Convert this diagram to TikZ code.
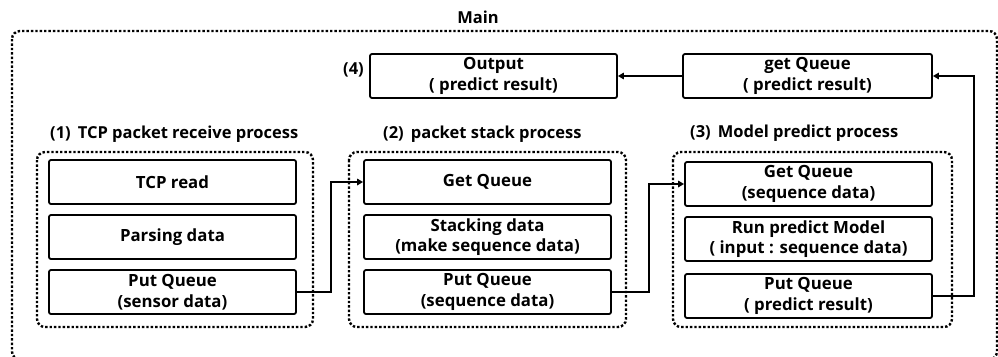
\documentclass[tikz,border=0pt]{standalone}
\usepackage{fontspec}
\setmainfont{Open Sans}
\usetikzlibrary{positioning}
\usetikzlibrary{arrows.meta}

\tikzset{
  procbox/.style={draw, line width=1.8pt, rounded corners=2pt, minimum width=247pt,
                  minimum height=44pt, align=center, inner sep=1pt,
                  font=\fontsize{16.8}{20.5}\selectfont\bfseries},
  groupbox/.style={line width=2.4pt, dotted, rounded corners=8pt},
  grouptitle/.style={anchor=west, inner sep=0pt, font=\fontsize{16.5}{19}\selectfont\bfseries},
  flow/.style={line width=2.2pt, -{Triangle[length=6pt,width=6.5pt]}}
}

\begin{document}
\begin{tikzpicture}[x=1pt, y=-1pt]
  \useasboundingbox (0,0) rectangle (998,356);
  \clip (0,0) rectangle (998,356);

 %main frame
  \draw[groupbox] (12,31) rectangle (997,359.5);
  \node[font=\fontsize{16.5}{19}\selectfont\bfseries] (main) at (478,17) {Main};

 %group 1
  \def\gx{172.5};
  \draw[groupbox] (37,152) rectangle (313,327);
  \node[grouptitle] (t1) at (50,134) {(1)\, TCP packet receive process};
  \foreach \y/\txt/\name in {182/TCP read/tr1, 237/Parsing data/pd1, 292/Put Queue\\(sensor data)/pq1} {
      \node[procbox] (\name) at (\gx,\y) {\txt};
  }

 %group 2
  \def\gx{487.5};
  \draw[groupbox] (349,152) rectangle (626,327);
  \node[grouptitle] (t2) at (383,134) {(2)\, packet stack process};
  \foreach \y/\txt/\name in {182/Get Queue/gq2, 237/Stacking data\\(make sequence data)/sd2, 292/Put Queue\\(sequence data)/pq2} {
      \node[procbox] (\name) at (\gx,\y) {\txt};
  }

 %group 3
  \def\gx{808.5};
  \draw[groupbox] (673,152) rectangle (952,327);
  \node[grouptitle] (t3) at (690,133) {(3)\, Model predict process};
  \foreach \y/\txt/\name in {184/Get Queue\\(sequence data)/gq3, 239/Run predict Model\\( input : sequence data)/rm3, 296/Put Queue\\( predict result)/pq3} {
      \node[procbox] (\name) at (\gx,\y) {\txt};
  }

 %output row
  \node[procbox] (out4) at (493.5,76) {Output\\( predict result)};
  \node[procbox, minimum width=249pt] (gq4) at (807.5,76) {get Queue\\( predict result)};
  \node[grouptitle, anchor=east] (t4) at (364,70) {(4)};

 %arrows
  \draw[flow] (pq1.east) -- ++(34,0) |- (gq2.west);
  \draw[flow] (pq2.east) -- ++(37,0) |- (gq3.west);
  \draw[flow] (pq3.east) -- ++(41,0) |- (gq4.east);
  \draw[flow] (gq4.west) -- (out4.east);

\end{tikzpicture}
\end{document}
